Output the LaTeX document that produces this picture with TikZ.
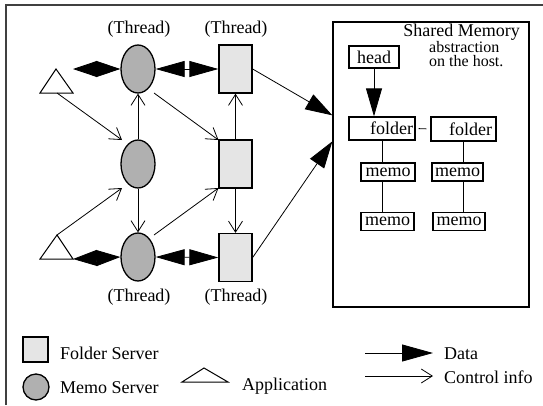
\documentclass[tikz,border=0pt]{standalone}
\usepackage{fontspec}
\setmainfont{Liberation Serif}
\usetikzlibrary{arrows.meta,calc,shapes.geometric}
\begin{document}
\begin{tikzpicture}[x=1pt,y=-1pt,
  every node/.style={font=\fontsize{18}{20}\selectfont, inner sep=0pt},
  memosrv/.style={ellipse, draw, line width=1.3pt, fill=black!31, minimum width=34pt, minimum height=48pt},
  foldsrv/.style={rectangle, draw, line width=1.3pt, fill=black!10, minimum width=33pt, minimum height=48pt},
  ctrl/.style={line width=0.8pt, -{Straight Barb[length=11pt,width=14pt,line width=0.8pt]}},
  databoth/.style={line width=0.8pt, {Triangle[length=#1,width=16pt]}-{Triangle[length=#1,width=16pt]}},
  dataone/.style={line width=0.8pt, -{Triangle[length=27pt,width=17pt]}},
  box/.style={rectangle, draw, line width=1.3pt, fill=white},
  app/.style={line width=1pt, line join=miter},
  thin/.style={line width=0.8pt},
  smalltxt/.style={font=\fontsize{16}{18}\selectfont}
]
\useasboundingbox (0,0) rectangle (543,405);
% frame
\draw[line width=1.2pt, black!75] (6,405) -- (6,5) -- (543,5);

% servers
\node[memosrv] (m1) at (138,69) {};
\node[memosrv] (m2) at (138,164) {};
\node[memosrv] (m3) at (138,257) {};
\node[foldsrv] (f1) at (235.5,69) {};
\node[foldsrv] (f2) at (235.5,164) {};
\node[foldsrv] (f3) at (235.5,257.5) {};

% thread labels
\node (th1) at (139,29) {(Thread)};
\node (th2) at (236,29) {(Thread)};
\node (th3) at (139,297) {(Thread)};
\node (th4) at (236,297) {(Thread)};

% applications
\coordinate (a1l) at (40,93);
\coordinate (a1t) at (56,69);
\coordinate (a1r) at (73,93);
\coordinate (a1b) at (57,93);
\coordinate (a1d) at (73,69);
\draw[app] (a1l) -- (a1t) -- (a1r) -- cycle;
\coordinate (a2l) at (40,259);
\coordinate (a2t) at (57,235);
\coordinate (a2r) at (73,259);
\draw[app] (a2l) -- (a2t) -- (a2r) -- cycle;

% data arrows (double)
\draw[databoth=24pt] (a1d) -- (m1.west);
\draw[databoth=29pt] (m1.east) -- (f1.west);
\draw[databoth=24pt] (a2r) -- (m3.west);
\draw[databoth=29pt] (m3.east) -- (f3.west);

% control arrows
\draw[ctrl] (a1b) -- ($(m2)+(-16,-24)$);
\draw[ctrl] ($(m1)+(16,24)$) -- ($(f2)+(-17,-24)$);
\draw[ctrl] (m2.north) -- (m1.south);
\draw[ctrl] (f2.north) -- (f1.south);
\draw[ctrl] (a2t) -- ($(m2)+(-16,24)$);
\draw[ctrl] ($(m3)+(16,-22)$) -- ($(f2)+(-17,24)$);
\draw[ctrl] (m2.south) -- (m3.north);
\draw[ctrl] (f2.south) -- (f3.north);

% shared memory box
\node[box, minimum width=196pt, minimum height=285pt] (sm) at (431,164.5) {};
\node[anchor=base east] (smt) at (520,36) {Shared Memory};
\node[anchor=base west, smalltxt] (smt2) at (429,52) {abstraction};
\node[anchor=base west, smalltxt] (smt3) at (429,66.5) {on the host.};

\draw[dataone] (f1.east) -- ($(sm.north west)+(0,94)$);
\draw[dataone] (f3.east) -- ($(sm.north west)+(0,120)$);

\node[box, minimum width=50pt, minimum height=22pt] (hd) at (374,57) {head};
\node[box, minimum height=23pt, text width=62pt, inner xsep=2pt, align=right] (fo1) at (382,128.5) {folder};
\node[box, minimum height=24pt, text width=57pt, inner xsep=4pt, align=right] (fo2) at (463.5,129) {\raisebox{-3pt}{folder}};
\node[box, minimum width=54pt, minimum height=18pt] (me1a) at (388,172) {memo};
\node[box, minimum width=53pt, minimum height=18pt] (me1b) at (387.5,221.5) {memo};
\node[box, minimum width=51pt, minimum height=18pt] (me2a) at (457.5,172) {memo};
\node[box, minimum width=52pt, minimum height=18pt] (me2b) at (459,221.5) {memo};

\draw[line width=0.8pt, -{Triangle[length=28pt,width=16pt]}] (hd.south) -- (hd.south |- fo1.north);
\draw[thin, shorten <=3pt, shorten >=4pt] (fo1.east) -- (fo2.west);
\draw[thin] (fo1.south) -- (fo1.south |- me1a.north);
\draw[thin] (me1a.south -| fo1.south) -- (me1b.north -| fo1.south);
\draw[thin] (fo2.south) -- (fo2.south |- me2a.north);
\draw[thin] (me2a.south -| fo2.south) -- (me2b.north -| fo2.south);

% legend
\node[rectangle, draw, line width=1.3pt, fill=black!10, minimum width=25pt, minimum height=25pt] (lf) at (35.5,349.5) {};
\node[anchor=west] (lft) at (60,353) {Folder Server};
\node[circle, draw, line width=1.3pt, fill=black!31, minimum size=26pt] (lm) at (36,387) {};
\node[anchor=west] (lmt) at (60,388) {Memo Server};
\coordinate (lal) at (182,382);
\coordinate (lat) at (204,368);
\coordinate (lar) at (228,382);
\draw[app] (lal) -- (lat) -- (lar) -- cycle;
\node[anchor=west] (lat2) at (242,386) {Application};
\node[anchor=west] (ldt) at (444,354) {Data};
\node[anchor=west] (lct) at (444,377) {Control info};
\coordinate (ld0) at (365,353);
\coordinate (ld1) at (433,353);
\coordinate (lc0) at (365,376);
\coordinate (lc1) at (433,376);
\draw[line width=0.8pt, -{Triangle[length=31pt,width=17pt]}] (ld0) -- (ld1);
\draw[ctrl] (lc0) -- (lc1);
\end{tikzpicture}
\end{document}
